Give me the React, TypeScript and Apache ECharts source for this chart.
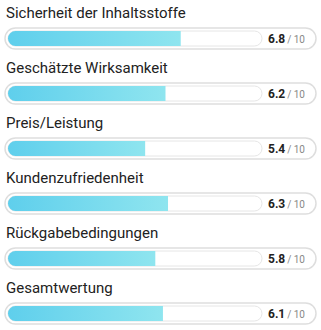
import React, { useEffect, useRef } from "react";
import * as echarts from "echarts";

const categories = [
  "Sicherheit der Inhaltsstoffe",
  "Geschätzte Wirksamkeit",
  "Preis/Leistung",
  "Kundenzufriedenheit",
  "Rückgabebedingungen",
  "Gesamtwertung",
];
const scores = [6.8, 6.2, 5.4, 6.3, 5.8, 6.1];
const maxScore = 10;

export default function App() {
  const ref = useRef<HTMLDivElement>(null);
  useEffect(() => {
    document.body.style.margin = "0";
    const chart = echarts.init(ref.current!, undefined, { renderer: "svg" });
    const font = "Roboto, 'Noto Sans', sans-serif";
    chart.setOption({
      animation: false,
      grid: { left: 8, width: 254, top: 38.5, bottom: 16.5 },
      xAxis: { type: "value", min: 0, max: maxScore, show: false },
      yAxis: { type: "category", data: categories, inverse: true, show: false, boundaryGap: false },
      series: [
        {
          type: "custom",
          data: scores.map((v, i) => [v, i]),
          encode: { x: 0, y: 1 },
          renderItem: (params: any, api: any) => {
            const v = api.value(0);
            const idx = api.value(1);
            const start = api.coord([0, idx]);
            const end = api.coord([v, idx]);
            const full = api.coord([maxScore, idx]);
            const cy = start[1];
            const h = 15;
            const x0 = start[0];
            return {
              type: "group",
              children: [
                {
                  type: "rect",
                  shape: { x: x0 - 3, y: cy - 10.5, width: 311, height: 21, r: 10.5 },
                  style: { fill: "#fff", stroke: "#dedede", lineWidth: 1.5 },
                },
                {
                  type: "rect",
                  shape: { x: x0, y: cy - h / 2, width: full[0] - x0, height: h, r: h / 2 },
                  style: { fill: "#fff", stroke: "#e6e6e6", lineWidth: 1 },
                },
                {
                  type: "rect",
                  shape: { x: x0, y: cy - h / 2, width: end[0] - x0, height: h, r: [h / 2, 0, 0, h / 2] },
                  style: {
                    fill: new echarts.graphic.LinearGradient(0, 0, 1, 0, [
                      { offset: 0, color: "#5fcfec" },
                      { offset: 1, color: "#8fe5ef" },
                    ]),
                  },
                },
                {
                  type: "text",
                  x: x0 - 2,
                  y: cy - 26,
                  style: {
                    text: categories[idx],
                    font: `15px ${font}`,
                    fill: "#222",
                    textAlign: "left",
                    textVerticalAlign: "middle",
                  },
                },
                {
                  type: "text",
                  x: full[0] + 6,
                  y: cy + 0.5,
                  style: {
                    text: v.toFixed(1),
                    font: `bold 12px ${font}`,
                    fill: "#222",
                    textAlign: "left",
                    textVerticalAlign: "middle",
                  },
                },
                {
                  type: "text",
                  x: full[0] + 43,
                  y: cy + 1,
                  style: {
                    text: "/ " + maxScore,
                    font: `10px ${font}`,
                    fill: "#888",
                    textAlign: "right",
                    textVerticalAlign: "middle",
                  },
                },
              ],
            };
          },
        },
      ],
    });
    return () => chart.dispose();
  }, []);
  return <div ref={ref} style={{ width: 321, height: 330 }} />;
}
